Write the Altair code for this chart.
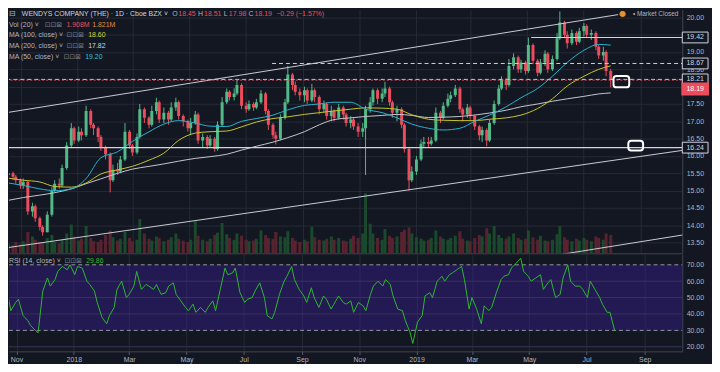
import altair as alt
import pandas as pd

# ---------------- data ----------------
first_open = 15.45
closes = [15.50, 15.40, 15.30, 15.15, 15.25, 14.40, 14.55, 14.20, 13.95, 13.80,
          14.30, 15.00, 15.20, 15.15, 15.65, 16.30, 16.80, 16.45, 16.70, 16.60,
          17.30, 16.90, 16.80, 16.55, 16.25, 16.05, 15.30, 15.60, 15.55, 15.90,
          16.70, 16.30, 16.10, 16.55, 17.35, 17.10, 16.90, 17.30, 17.55, 17.05,
          17.25, 17.05, 17.40, 17.55, 17.15, 17.00, 16.80, 16.95, 17.20, 16.45,
          16.55, 16.30, 16.50, 16.20, 16.90, 17.55, 17.85, 17.70, 17.80, 18.05,
          17.45, 17.35, 17.50, 17.40, 17.55, 17.80, 17.30, 16.90, 16.60, 16.50,
          17.10, 17.55, 18.35, 18.05, 17.85, 17.75, 17.90, 17.60, 17.90, 17.70,
          17.35, 17.50, 17.15, 17.30, 17.10, 17.40, 17.20, 16.95, 17.05, 16.85,
          16.70, 16.80, 17.35, 17.55, 17.90, 17.65, 17.80, 17.95, 17.55, 17.25,
          17.35, 16.90, 16.20, 15.30, 15.55, 15.90, 16.35, 16.40, 16.35, 16.45,
          17.25, 17.10, 17.45, 17.65, 17.75, 17.95, 17.35, 17.20, 17.40, 17.15,
          16.85, 16.60, 16.75, 16.45, 16.95, 17.50, 17.95, 18.20, 18.05, 18.60,
          18.85, 18.50, 18.70, 18.45, 19.20, 18.75, 18.40, 18.70, 18.95, 18.50,
          18.80, 19.40, 19.85, 19.50, 19.25, 19.55, 19.30, 19.60, 19.75, 19.50,
          19.55, 19.15, 18.90, 19.00, 18.45, 18.19]
highs = [15.65, 15.55, 15.45, 15.35, 15.35, 15.30, 14.65, 14.60, 14.25, 14.00,
         14.40, 15.10, 15.30, 15.35, 15.75, 16.40, 16.95, 16.85, 16.85, 16.80,
         17.45, 17.35, 16.95, 16.85, 16.60, 16.30, 16.10, 15.75, 15.80, 16.00,
         16.95, 16.75, 16.35, 16.65, 17.50, 17.40, 17.15, 17.45, 17.68, 17.60,
         17.40, 17.30, 17.55, 17.68, 17.60, 17.20, 17.05, 17.10, 17.30, 17.25,
         16.65, 16.60, 16.60, 16.55, 17.00, 17.70, 17.95, 17.90, 17.95, 18.20,
         18.10, 17.55, 17.60, 17.55, 17.65, 17.90, 17.85, 17.35, 16.95, 16.70,
         17.20, 17.65, 18.60, 18.40, 18.15, 17.95, 18.00, 17.95, 18.08, 17.95,
         17.75, 17.60, 17.55, 17.45, 17.35, 17.50, 17.45, 17.25, 17.15, 17.10,
         16.95, 16.95, 17.45, 17.70, 17.95, 17.95, 17.95, 18.14, 18.00, 17.60,
         17.45, 17.40, 16.95, 16.25, 15.70, 16.00, 16.47, 16.55, 16.55, 16.55,
         17.40, 17.30, 17.55, 17.80, 17.86, 18.05, 18.00, 17.40, 17.50, 17.45,
         17.20, 16.90, 16.85, 16.80, 17.05, 17.60, 18.05, 18.30, 18.25, 18.80,
         18.96, 18.90, 18.78, 18.75, 19.42, 19.25, 18.80, 18.80, 19.05, 19.00,
         18.90, 19.55, 20.17, 19.90, 19.60, 19.65, 19.60, 19.70, 19.84, 19.80,
         19.65, 19.60, 19.20, 19.15, 19.05, 18.51]
lows = [15.35, 15.30, 15.20, 15.05, 15.05, 14.30, 14.25, 14.10, 13.85, 13.70,
        13.80, 14.25, 14.95, 15.05, 15.10, 15.60, 16.25, 16.35, 16.40, 16.45,
        16.55, 16.80, 16.60, 16.40, 16.15, 15.90, 14.95, 15.25, 15.45, 15.50,
        15.85, 16.20, 16.00, 16.05, 16.50, 16.95, 16.80, 16.85, 17.20, 16.95,
        16.95, 16.90, 17.00, 17.30, 17.05, 16.85, 16.70, 16.60, 16.90, 16.35,
        16.25, 16.20, 16.25, 16.12, 16.15, 16.85, 17.50, 17.60, 17.60, 17.75,
        17.35, 17.25, 17.30, 17.30, 17.35, 17.50, 17.20, 16.75, 16.50, 16.33,
        16.45, 17.05, 17.50, 17.90, 17.75, 17.60, 17.55, 17.50, 17.55, 17.55,
        17.20, 17.25, 17.05, 17.00, 17.00, 17.05, 17.05, 16.85, 16.80, 16.75,
        16.55, 16.55, 15.45, 17.25, 17.45, 17.50, 17.55, 17.70, 17.45, 17.10,
        17.00, 16.80, 16.10, 15.00, 15.25, 15.45, 15.85, 16.25, 16.25, 16.30,
        16.40, 16.95, 17.05, 17.40, 17.55, 17.70, 17.25, 17.00, 17.10, 17.05,
        16.75, 16.45, 16.40, 16.28, 16.40, 16.90, 17.45, 17.90, 17.90, 18.00,
        18.50, 18.40, 18.40, 18.35, 18.40, 18.65, 18.30, 18.35, 18.60, 18.40,
        18.45, 18.75, 19.35, 19.40, 19.10, 19.20, 19.20, 19.25, 19.45, 19.40,
        19.35, 19.05, 18.80, 18.75, 18.30, 17.98]
volumes_m = [1.3, 1.1, 1.5, 1.2, 1.6, 2.8, 2.2, 1.8, 1.5, 1.4,
             2.0, 2.4, 1.5, 1.3, 1.8, 2.6, 3.8, 2.2, 1.7, 1.9,
             3.6, 2.0, 1.6, 1.5, 1.8, 2.4, 3.0, 2.1, 1.7, 1.9,
             2.8, 2.0, 1.6, 1.8, 4.5, 2.6, 1.9, 1.7, 2.2, 2.0,
             1.6, 1.8, 2.1, 2.6, 1.9, 1.7, 1.5, 1.8, 4.2, 2.3,
             1.8, 1.6, 1.9, 2.4, 2.7, 4.0, 2.5, 2.0, 1.8, 2.6,
             2.3, 1.8, 1.6, 1.7, 1.9, 3.0, 2.4, 2.0, 1.9, 2.8,
             2.2, 2.1, 2.9, 2.0, 1.7, 1.5, 1.8, 1.6, 3.5, 2.1,
             1.8, 1.7, 1.9, 2.2, 1.8, 2.0, 1.7, 1.6, 1.9, 2.3,
             2.0, 2.6, 7.9, 3.9, 2.6, 2.0, 1.8, 3.2, 2.3, 2.0,
             2.2, 2.8, 3.1, 3.4, 2.6, 2.1, 1.9, 1.7, 1.8, 2.0,
             3.0, 2.2, 1.9, 1.8, 2.0, 2.3, 2.9, 1.9, 1.7, 1.6,
             2.0, 2.4, 2.2, 3.3, 2.6, 3.6, 2.4, 2.0, 1.9, 2.2,
             2.6, 2.0, 1.8, 1.9, 3.0, 2.1, 1.8, 2.3, 1.7, 1.6,
             1.8, 2.5, 3.6, 2.1, 1.8, 1.6, 1.9, 1.7, 2.0, 1.8,
             1.6, 2.2, 2.0, 1.8, 2.6, 2.4]
rsi14 = [55, 51, 42, 47, 49, 39, 36, 33, 30, 28.5,
         54, 62, 57, 61, 66, 69, 67, 70, 64, 69,
         68, 60, 58, 54, 47, 38, 34, 39, 44, 55,
         60, 50, 52, 57, 66, 55, 58, 57, 55, 58,
         52, 53, 57, 59, 52, 48, 44, 42, 46, 41,
         44, 41, 44, 48, 42, 55, 68, 64, 65, 68,
         53, 47, 49, 50, 54, 59, 50, 39, 37, 41,
         52, 60, 63, 69, 61, 55, 51, 47, 56, 50,
         44, 51, 49, 43, 46, 51, 47, 46, 48, 41,
         47, 45, 42, 52, 57, 60, 57, 61, 58, 51,
         43, 42, 36, 29, 22, 35, 39, 51, 53, 50,
         60, 63, 60, 64, 65, 67, 69, 61, 43, 50,
         43, 34, 45, 42, 44, 53, 61, 63, 64, 68,
         71, 74, 66, 63, 60, 62, 64, 55, 59, 61,
         50, 52, 62, 70, 60, 57, 57, 55, 50, 60,
         55, 50, 46, 41, 41, 29.86]

ma_bars = list(range(0, 153, 4)) + [155]
ma50 = [15.22, 15.15, 15.05, 15.00, 15.05, 15.35, 15.95, 16.12, 16.42, 16.70,
        16.92, 17.02, 16.95, 16.86, 16.85, 17.00, 17.08, 17.18, 17.33, 17.46,
        17.50, 17.55, 17.55, 17.35, 17.25, 17.10, 16.92, 16.80, 16.75, 16.80,
        17.00, 17.18, 17.42, 17.68, 17.95, 18.30, 18.70, 19.05, 19.22, 19.20]
ma100 = [15.36, 15.30, 15.25, 15.12, 15.10, 15.22, 15.48, 15.60, 15.70, 15.88,
         16.08, 16.45, 16.66, 16.70, 16.72, 16.84, 16.98, 17.08, 17.13, 17.20,
         17.25, 17.30, 17.35, 17.39, 17.38, 17.35, 17.19, 17.06, 17.03, 17.02,
         17.02, 17.06, 17.10, 17.18, 17.37, 17.65, 18.02, 18.30, 18.50, 18.60]
ma200 = [14.72, 14.80, 14.87, 14.94, 15.05, 15.20, 15.34, 15.50, 15.62, 15.70,
         15.77, 15.85, 15.93, 15.98, 16.05, 16.17, 16.28, 16.40, 16.53, 16.70,
         16.90, 17.05, 17.10, 17.14, 17.17, 17.20, 17.17, 17.11, 17.12, 17.14,
         17.18, 17.24, 17.32, 17.42, 17.50, 17.58, 17.65, 17.72, 17.79, 17.82]

# drawings on the chart
trend_names = ["upper", "upper", "lower", "lower", "bottom", "bottom"]
trend_dates = ["2017-10-16", "2019-08-08", "2017-10-16", "2019-10-24", "2019-04-17", "2019-10-24"]
trend_prices = [17.25, 20.08, 13.35, 16.19, 12.94, 13.75]
solid_levels = [19.42, 16.24]
solid_starts = ["2019-05-06", "2017-10-16"]
dashed_levels = [18.67, 18.21]
dashed_starts = ["2018-07-30", "2017-10-16"]
level_end = "2019-12-31"
last_price = 18.19
box_start = ["2019-08-03", "2019-08-19"]
box_end = ["2019-08-20", "2019-09-04"]
box_top = [18.31, 16.44]
box_bottom = [17.98, 16.16]
tag_levels = [19.42, 18.67, 18.21, 16.24]
rsi_band = [30, 70]
rsi_grid = [20, 40, 50, 60]
price_ticks = [13.5, 14.0, 14.5, 15.0, 15.5, 16.0, 16.5, 17.0, 17.5, 18.0, 18.5, 19.0, 19.5, 20.0]
rsi_ticks = [20, 30, 40, 50, 60, 70]
month_marks = [(2017, 11), (2018, 1), (2018, 3), (2018, 5), (2018, 7), (2018, 9),
               (2018, 11), (2019, 1), (2019, 3), (2019, 5), (2019, 7), (2019, 9)]

# ---------------- tables ----------------
bar_dates = pd.bdate_range("2017-10-18", periods=len(closes), freq="3B")
opens = [first_open] + closes[:-1]
bars = pd.DataFrame({"date": bar_dates, "open": opens, "high": highs, "low": lows,
                     "close": closes, "volume": volumes_m, "rsi": rsi14})
ma = pd.DataFrame({"date": bar_dates[ma_bars], "ma50": ma50, "ma100": ma100, "ma200": ma200})
trend = pd.DataFrame({"line": trend_names, "date": pd.to_datetime(trend_dates), "price": trend_prices})
solid = pd.DataFrame({"start": pd.to_datetime(solid_starts), "end": pd.to_datetime(level_end), "price": solid_levels})
dashed = pd.DataFrame({"start": pd.to_datetime(dashed_starts), "end": pd.to_datetime(level_end), "price": dashed_levels})
lastp = pd.DataFrame({"start": pd.to_datetime(["2017-10-16"]), "end": pd.to_datetime([level_end]), "price": [last_price]})
boxes = pd.DataFrame({"start": pd.to_datetime(box_start), "end": pd.to_datetime(box_end),
                      "top": box_top, "bottom": box_bottom})
tags = pd.DataFrame({"price": tag_levels})
band = pd.DataFrame({"lo": [rsi_band[0]], "hi": [rsi_band[1]]})
levels = pd.DataFrame({"v": rsi_band})
rgrid = pd.DataFrame({"v": rsi_grid})
one = pd.DataFrame({"k": [0]})

# ---------------- style ----------------
BG = "#131722"
GRID = "#252a37"
TXT = "#b2b5be"
WHITE = "#d1d4dc"
UP = "#53b987"
DOWN = "#eb4d5c"
FONT = "Liberation Sans"
W, H1, H2 = 680, 246, 98

xs = alt.Scale(domain=[alt.DateTime(year=2017, month=10, date=24),
                       alt.DateTime(year=2019, month=10, date=11)])
ticks = [alt.DateTime(year=y, month=m, date=1) for y, m in month_marks]
main_xaxis = alt.Axis(values=ticks, grid=True, gridColor=GRID, labels=False, ticks=False,
                      domain=True, domainColor="#434651", title=None)
rsi_xaxis = alt.Axis(values=ticks, grid=True, gridColor=GRID, labels=True, ticks=True, tickSize=3,
                     tickColor="#5d606b", domain=True, domainColor="#434651", title=None,
                     labelColor=TXT, labelFont=FONT, labelFontSize=7, labelPadding=1,
                     labelExpr="month(datum.value) == 0 ? timeFormat(datum.value, '%Y') : timeFormat(datum.value, '%b')")
ps = alt.Scale(domain=[13.19, 20.22], nice=False, zero=False)
price_axis = alt.Axis(orient="right", values=price_ticks, grid=True, gridColor=GRID, ticks=False,
                      domain=True, domainColor="#434651", labelColor=TXT, labelFont=FONT,
                      labelFontSize=7, labelPadding=4, title=None,
                      labelExpr="datum.value == 18 || datum.value == 19.5 ? '' : format(datum.value, '.2f')")
rs = alt.Scale(domain=[17.2, 76.4], nice=False, zero=False)
rsi_axis = alt.Axis(orient="right", values=rsi_ticks, grid=False, ticks=False, domain=True,
                    domainColor="#434651", labelColor=TXT, labelFont=FONT, labelFontSize=7,
                    labelPadding=4, title=None, format=".2f")

X = alt.X("date:T", scale=xs, axis=main_xaxis, title=None)
XR = alt.X("date:T", scale=xs, axis=rsi_xaxis, title=None)


def PY(field):
    return alt.Y(field, type="quantitative", scale=ps, axis=price_axis, title=None)


updown = alt.condition("datum.close >= datum.open", alt.value(UP), alt.value(DOWN))
updown_vol = alt.condition("datum.close >= datum.open", alt.value("#1a4d2c"), alt.value("#5c2430"))


def txt(s, x, y, color, size=7, font=FONT, weight="normal", align="left"):
    return alt.Chart(one).mark_text(text=s, align=align, baseline="middle", fontSize=size,
                                    font=font, color=color, fontWeight=weight).encode(
        x=alt.value(x), y=alt.value(y))


# ---------------- main panel ----------------
base = alt.Chart(bars)
volume = base.mark_bar(width=3, opacity=0.95, clip=True).encode(
    x=X, y=alt.Y("volume:Q", scale=alt.Scale(domain=[0, 32], nice=False), axis=None),
    color=updown_vol)
wicks = base.mark_rule(strokeWidth=1, clip=True).encode(x=X, y=PY("low"), y2="high", color=updown)
bodies = base.mark_bar(width=3, clip=True).encode(x=X, y=PY("open"), y2="close", color=updown)

mab = alt.Chart(ma)
l50 = mab.mark_line(color="#28b4cf", strokeWidth=1, interpolate="monotone", clip=True).encode(x=X, y=PY("ma50"))
l100 = mab.mark_line(color="#c8c62c", strokeWidth=1, interpolate="monotone", clip=True).encode(x=X, y=PY("ma100"))
l200 = mab.mark_line(color="#c5c7cf", strokeWidth=1, interpolate="monotone", clip=True).encode(x=X, y=PY("ma200"))

trend_lines = alt.Chart(trend).mark_line(color="#c9ccd4", strokeWidth=1, clip=True).encode(
    x=X, y=PY("price"), detail="line:N")
solid_lines = alt.Chart(solid).mark_rule(color=WHITE, strokeWidth=1.2, clip=True).encode(
    x=alt.X("start:T", scale=xs, axis=main_xaxis, title=None), x2="end:T", y=PY("price"))
dashed_lines = alt.Chart(dashed).mark_rule(color=WHITE, strokeWidth=1, strokeDash=[4, 3], clip=True).encode(
    x=alt.X("start:T", scale=xs, axis=main_xaxis, title=None), x2="end:T", y=PY("price"))
last_line = alt.Chart(lastp).mark_rule(color=DOWN, strokeWidth=1, strokeDash=[2, 2], clip=True).encode(
    x=alt.X("start:T", scale=xs, axis=main_xaxis, title=None), x2="end:T", y=PY("price"))
box_marks = alt.Chart(boxes).mark_rect(fillOpacity=0, stroke="#ffffff", strokeWidth=2, cornerRadius=3,
                                       clip=True).encode(
    x=alt.X("start:T", scale=xs, axis=main_xaxis, title=None), x2="end:T", y=PY("top"), y2="bottom")

BOX = "M-1,-0.42H1V0.42H-1Z"
tag_box = alt.Chart(tags).mark_point(shape=BOX, size=26 * 26, filled=True, fill=BG, stroke=WHITE,
                                     strokeWidth=1, opacity=1).encode(x=alt.value(W + 13), y=PY("price"))
tag_text = alt.Chart(tags).mark_text(fontSize=7, font=FONT, color=WHITE, align="center",
                                     baseline="middle").encode(
    x=alt.value(W + 13), y=PY("price"), text=alt.Text("price:Q", format=".2f"))
last_box = alt.Chart(lastp).mark_point(shape=BOX, size=26 * 26, filled=True, fill=DOWN, stroke=DOWN,
                                       opacity=1, yOffset=9).encode(x=alt.value(W + 13), y=PY("price"))
last_text = alt.Chart(lastp).mark_text(fontSize=7, font=FONT, color="#ffffff", align="center",
                                       baseline="middle", yOffset=9).encode(
    x=alt.value(W + 13), y=PY("price"), text=alt.Text("price:Q", format=".2f"))

price_layers = alt.layer(wicks, bodies, l200, l100, l50, trend_lines, solid_lines, dashed_lines,
                         last_line, box_marks, tag_box, tag_text, last_box, last_text)

ICONS = "⊡⊡⊠"
IC = "#787b86"
header = [
    txt("⊟", 0, 4, TXT, 8, "DejaVu Sans"),
    txt("WENDYS COMPANY (THE) · 1D · Cboe BZX ˅", 13, 4, WHITE, 7),
    txt("O", 165, 4, TXT), txt("18.45", 171, 4, DOWN),
    txt("H", 191, 4, TXT), txt("18.51", 197, 4, DOWN),
    txt("L", 217, 4, TXT), txt("17.98", 222, 4, DOWN),
    txt("C", 242, 4, TXT), txt("18.19", 248, 4, DOWN),
    txt("−0.29 (−1.57%)", 270, 4, DOWN),
    txt("Vol (20) ˅", 0, 15, TXT), txt(ICONS, 36, 15, IC, 7, "DejaVu Sans"),
    txt("1.908M", 58, 15, DOWN), txt("1.821M", 84, 15, "#e08a3c"),
    txt("MA (100, close) ˅", 0, 26, TXT), txt(ICONS, 58, 26, IC, 7, "DejaVu Sans"),
    txt("18.60", 80, 26, "#d8d62e"),
    txt("MA (200, close) ˅", 0, 37, TXT), txt(ICONS, 58, 37, IC, 7, "DejaVu Sans"),
    txt("17.82", 80, 37, WHITE),
    txt("MA (50, close) ˅", 0, 48, TXT), txt(ICONS, 55, 48, IC, 7, "DejaVu Sans"),
    txt("19.20", 77, 48, "#2fc1dc"),
    txt("●", 616, 4, "#e8912d", 8, "DejaVu Sans"),
    txt("• Market Closed", 676, 4, TXT, 6.5, align="right"),
]

main = alt.layer(volume, price_layers, *header).resolve_scale(y="independent").properties(width=W, height=H1)

# ---------------- RSI panel ----------------
band_rect = alt.Chart(band).mark_rect(color="#3d1f9e", opacity=0.4).encode(
    x=alt.value(0), x2=alt.value(W),
    y=alt.Y("lo:Q", scale=rs, axis=rsi_axis, title=None), y2="hi:Q")
grid_r = alt.Chart(rgrid).mark_rule(color="#3a3557", strokeWidth=1).encode(
    x=alt.value(0), x2=alt.value(W), y=alt.Y("v:Q", scale=rs, axis=rsi_axis, title=None))
level_r = alt.Chart(levels).mark_rule(color="#9598a1", strokeWidth=1, strokeDash=[4, 3]).encode(
    x=alt.value(0), x2=alt.value(W), y=alt.Y("v:Q", scale=rs, axis=rsi_axis, title=None))
rsi_line = alt.Chart(bars).mark_line(color="#2fb82f", strokeWidth=1, clip=True).encode(
    x=XR, y=alt.Y("rsi:Q", scale=rs, axis=rsi_axis, title=None))
rsi_head = [
    txt("RSI (14, close) ˅", 0, 7, TXT), txt(ICONS, 56, 7, IC, 7, "DejaVu Sans"),
    txt("29.86", 78, 7, "#2fb82f"),
]
rsi = alt.layer(band_rect, grid_r, level_r, rsi_line, *rsi_head).properties(width=W, height=H2)

chart = alt.vconcat(main, rsi, spacing=1).properties(background=BG, padding=0).configure_view(
    stroke=None).configure_axis(labelFont=FONT)

chart.save("out.html", embed_options={"renderer": "svg", "actions": False})
